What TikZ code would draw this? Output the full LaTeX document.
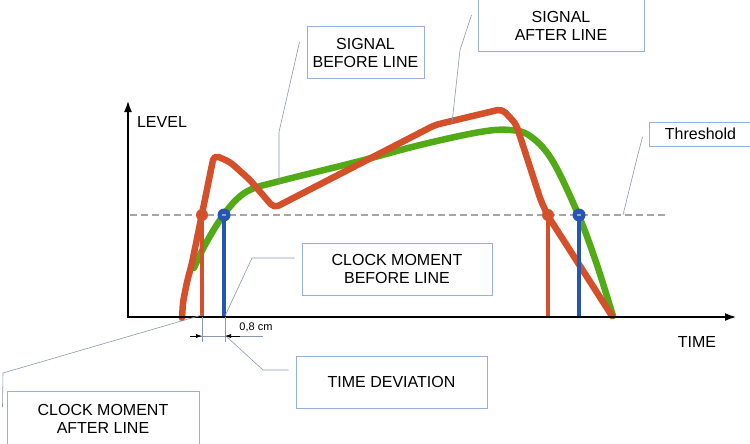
\documentclass[tikz,border=0pt]{standalone}
\usepackage{fontspec}
\setmainfont{Liberation Sans}
\usetikzlibrary{arrows.meta}
\definecolor{sigred}{RGB}{212,80,42}
\definecolor{siggreen}{RGB}{82,170,22}
\definecolor{clkblue}{RGB}{38,86,178}
\definecolor{boxblue}{RGB}{150,176,222}
\definecolor{leadgray}{RGB}{140,150,172}
\definecolor{dashgray}{RGB}{165,165,165}
\begin{document}
\begin{tikzpicture}[x=1pt,y=-1pt,
  labelbox/.style={draw=boxblue, line width=1pt, fill=white, align=center, inner sep=0pt,
    font=\fontsize{16}{18.5}\selectfont},
  leader/.style={draw=leadgray, line width=0.6pt},
  sigline/.style={line width=6.5pt, line cap=round, line join=round},
  clkline/.style={line width=4.5pt},
  axis/.style={line width=2.4pt, -{Latex[length=12pt,width=8pt]}}]
\useasboundingbox (0,0) rectangle (750,444);
\coordinate (O) at (128,317);
\coordinate (ytip) at (128,100);
\coordinate (xtip) at (737,317);
\coordinate (r1) at (202,215);
\coordinate (b1) at (224,215);
\coordinate (r2) at (548,215);
\coordinate (b2) at (579,215);
\coordinate (g1) at (279,185);
\coordinate (s1) at (452,123);
\coordinate (t1) at (623,215);
\draw [dashgray, line width=2pt, dash pattern=on 7pt off 4pt] (130,215) -- (667,215);
\draw [sigline, siggreen] plot [smooth, tension=0.6] coordinates {(194,268) (205,245) (220,220)
  (236,200) (252,189) (280,181) (360,161) (420,145) (480,132) (510,130) (530,136) (552,160)
  (578,214) (596,262) (613,316)};
\draw [sigline, sigred, rounded corners=5pt] (182,318) -- (183,302) -- (187,282) -- (192,263)
  -- (214,155) -- (230,162) -- (250,180) -- (274,208) -- (435,125) -- (502,109) -- (516,124)
  -- (541,201) -- (548,216) -- (612,316);
\draw [clkline, sigred] (r1) -- (r1 |- O);
\draw [clkline, sigred] (r2) -- (r2 |- O);
\draw [clkline, clkblue] (b1) -- (b1 |- O);
\draw [clkline, clkblue] (b2) -- (b2 |- O);
\fill [sigred] (r1) circle [radius=6];
\fill [sigred] (r2) circle [radius=6];
\fill [clkblue] (b1) circle [radius=6.5];
\fill [clkblue] (b2) circle [radius=6.5];
\draw [dashgray, line width=1.5pt] ([xshift=-2]b1) -- ([xshift=2]b1);
\draw [dashgray, line width=1.5pt] ([xshift=-2]b2) -- ([xshift=2]b2);
\draw [axis] (O) -- (ytip);
\draw [axis] ([xshift=-1]O) -- (xtip);
\node (level) at (162,122) {\fontsize{16}{18}\selectfont LEVEL};
\node (time) at (697,342) {\fontsize{16}{18}\selectfont TIME};
\draw [leadgray, line width=0.6pt] (r1 |- O) -- ++(0,25);
\draw [leadgray, line width=0.6pt] ([xshift=1]b1 |- O) -- ++(0,25);
\draw [leadgray, line width=0.6pt] (190,336) -- (263,336);
\draw [-{Latex[length=6pt,width=4pt]}, black, line width=0.6pt] (190,336) -- (r1 |- 0,336);
\draw [-{Latex[length=6pt,width=4pt]}, black, line width=0.6pt] (240,336) -- ([xshift=1]b1 |- 0,336);
\node (dim) at (256,327) {\fontsize{11}{13}\selectfont 0,8 cm};
\node [labelbox, minimum width=117, minimum height=52] (sbl) at (365.5,53) {SIGNAL\\BEFORE LINE};
\node [labelbox, minimum width=166, minimum height=52] (sal) at (561,26) {SIGNAL\\AFTER LINE};
\node [labelbox, minimum width=103, minimum height=24] (thr) at (700.5,134) {Threshold};
\node [labelbox, minimum width=190, minimum height=52] (cmb) at (397,269) {CLOCK MOMENT\\BEFORE LINE};
\node [labelbox, minimum width=191, minimum height=52] (tdev) at (391.5,382) {TIME DEVIATION};
\node [labelbox, minimum width=192, minimum height=56] (cma) at (103,419) {CLOCK MOMENT\\AFTER LINE};
\draw [leader] ([shift={(-7,-11)}]sbl.west) -- (279,132) -- (g1);
\draw [leader] ([shift={(-6,-11)}]sal.west) -- (460,50) -- (s1);
\draw [leader] ([shift={(-6,3)}]thr.west) -- (637,158) -- (t1);
\draw [leader] ([shift={(-7,-11)}]cmb.west) -- (252,258) -- ([xshift=1,yshift=1]b1 |- O);
\draw [leader] ([shift={(-7,-12)}]tdev.west) -- (263,370) -- ([xshift=3]b1 |- 0,337);
\draw [leader] ([shift={(-4,-12)}]cma.west) -- (3,373) -- ([yshift=2]r1 |- O);
\end{tikzpicture}
\end{document}
